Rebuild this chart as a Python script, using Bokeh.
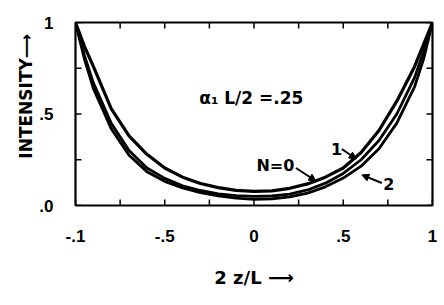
import math
from bokeh.plotting import figure
from bokeh.models import (Range1d, FixedTicker, Label, Arrow, NormalHead)
from bokeh.embed import file_html
from bokeh.resources import INLINE

# ---- data ----
z = [-1.0, -0.95, -0.9, -0.8, -0.7, -0.6, -0.5, -0.4, -0.3, -0.2, -0.1, 0.0,
     0.1, 0.2, 0.3, 0.4, 0.5, 0.6, 0.7, 0.8, 0.9, 0.95, 1.0]
n0 = [1.00, 0.87, 0.76, 0.53, 0.38, 0.28, 0.205, 0.155, 0.12, 0.098, 0.083, 0.077,
      0.080, 0.094, 0.118, 0.155, 0.205, 0.29, 0.41, 0.57, 0.76, 0.88, 1.00]
n1 = [1.00, 0.82, 0.67, 0.45, 0.30, 0.205, 0.148, 0.108, 0.082, 0.064, 0.054, 0.050,
      0.052, 0.062, 0.085, 0.122, 0.175, 0.25, 0.355, 0.50, 0.70, 0.84, 1.00]
n2 = [1.00, 0.80, 0.64, 0.42, 0.275, 0.185, 0.132, 0.096, 0.070, 0.052, 0.040, 0.034,
      0.036, 0.047, 0.068, 0.102, 0.150, 0.215, 0.31, 0.45, 0.65, 0.80, 1.00]

x_major = [-1, -0.5, 0, 0.5, 1]
x_minor = [-0.75, -0.25, 0.25, 0.75]
x_tick_labels = {-1: "-.1", -0.5: "-.5", 0: "0", 0.5: ".5", 1: "1"}
y_major = [0, 0.5, 1]
y_minor = [0.25, 0.75]
y_tick_labels = {0: ".0", 0.5: ".5", 1: "1"}

BOLD_SANS = "DejaVu Sans"
TICK_FONT = "Liberation Sans"

p = figure(width=444, height=305, output_backend="svg", toolbar_location=None,
           x_range=Range1d(-1, 1), y_range=Range1d(0, 1),
           min_border_left=75, min_border_right=12, min_border_top=22, min_border_bottom=100)
p.background_fill_color = "white"
p.border_fill_color = "white"
p.outline_line_color = "black"
p.outline_line_width = 2.2
p.grid.visible = False

for ax, major, labels in ((p.xaxis[0], x_major, x_tick_labels),
                          (p.yaxis[0], y_major, y_tick_labels)):
    ax.ticker = FixedTicker(ticks=major)
    ax.major_label_overrides = labels
    ax.major_tick_line_color = None
    ax.minor_tick_line_color = None
    ax.axis_line_color = None
    ax.major_label_text_font = TICK_FONT
    ax.major_label_text_font_style = "bold"
    ax.major_label_text_font_size = "17px"
    ax.major_label_text_color = "black"
    ax.axis_label_text_color = "black"
    ax.axis_label_text_font = BOLD_SANS
    ax.axis_label_text_font_style = "bold"

p.xaxis[0].major_label_standoff = 18
p.yaxis[0].major_label_standoff = 16
p.xaxis[0].axis_label = "2 z/L \u27f6"
p.xaxis[0].axis_label_text_font_size = "18px"
p.xaxis[0].axis_label_standoff = 22

# y label: leading spaces shift the centred label up, as in the reference
p.yaxis[0].axis_label = "\u00a0" * 6 + "INTENSITY\u27f6"
p.yaxis[0].axis_label_text_font_size = "17px"
p.yaxis[0].axis_label_standoff = 0

# inward tick marks on all four sides (screen-length rays from the tick values)
all_x = x_major + x_minor
all_y = y_major + y_minor
TL = 6
p.ray(x=all_x, y=[0] * len(all_x), length=TL, length_units="screen", angle=math.pi / 2,
      line_color="black", line_width=1.5)
p.ray(x=all_x, y=[1] * len(all_x), length=TL, length_units="screen", angle=-math.pi / 2,
      line_color="black", line_width=1.5)
p.ray(x=[-1] * len(all_y), y=all_y, length=TL, length_units="screen", angle=0,
      line_color="black", line_width=1.5)
p.ray(x=[1] * len(all_y), y=all_y, length=TL, length_units="screen", angle=math.pi,
      line_color="black", line_width=1.5)

# curves
p.line(z, n2, line_color="black", line_width=2.8)
p.line(z, n1, line_color="black", line_width=2.8)
p.line(z, n0, line_color="black", line_width=3.2)

# annotation text
p.add_layout(Label(x=-0.015, y=0.59, text="\u03b1\u2081 L/2 =.25", text_align="center",
                   text_baseline="middle", text_font=BOLD_SANS, text_font_style="bold",
                   text_font_size="17px", text_color="black"))

# curve labels
for txt, lx, ly in (("N=0", 0.12, 0.218), ("1", 0.462, 0.311), ("2", 0.755, 0.115)):
    p.add_layout(Label(x=lx, y=ly, text=txt, text_align="center", text_baseline="middle",
                       text_font=BOLD_SANS, text_font_style="bold", text_font_size="16px",
                       text_color="black"))

for (xs, ys, xe, ye) in ((0.235, 0.205, 0.347, 0.134),
                         (0.492, 0.309, 0.573, 0.254),
                         (0.716, 0.123, 0.604, 0.167)):
    p.add_layout(Arrow(x_start=xs, y_start=ys, x_end=xe, y_end=ye, line_width=2,
                       line_color="black",
                       end=NormalHead(size=7, fill_color="black", line_color="black")))

open("out.html", "w").write(file_html(p, INLINE))
